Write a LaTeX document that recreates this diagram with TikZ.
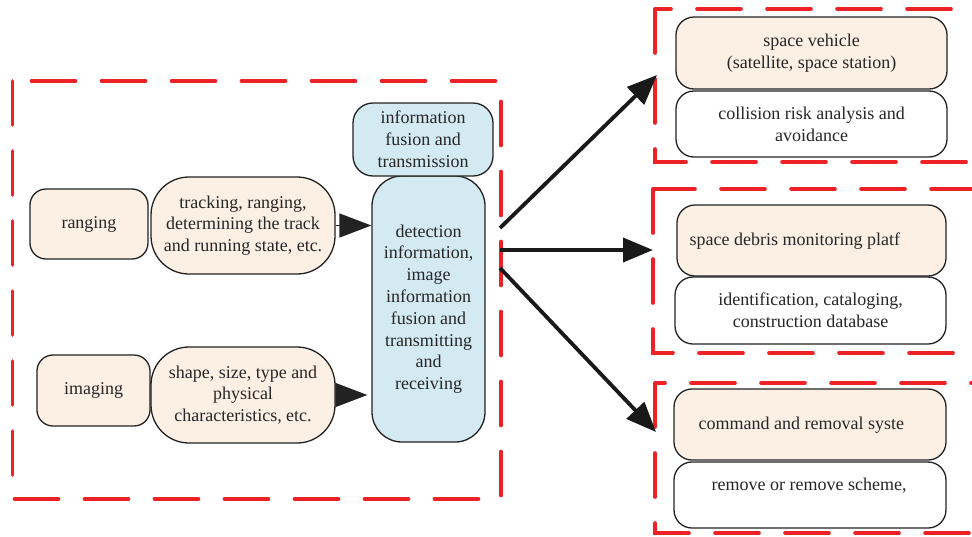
\documentclass[tikz,border=0pt]{standalone}
\usepackage{fontspec}
\setmainfont{Liberation Serif}
\usetikzlibrary{arrows.meta}
\definecolor{beige}{HTML}{FCF0E4}
\definecolor{lblue}{HTML}{D3EAF2}
\definecolor{dred}{HTML}{EC2227}
\definecolor{edge}{HTML}{222222}
\tikzset{
  bx/.style={draw=edge, line width=1.3pt, inner sep=0pt, align=center,
    font=\fontsize{18}{21.8}\selectfont, text=black!85},
  panel/.style={draw=dred, line width=3.6pt, dash pattern=on 44pt off 26pt, line cap=round},
  smallarr/.style={draw=edge, line width=1.5pt, -{Triangle[length=32pt,width=24pt]}},
  bigarr/.style={draw=black!90, line width=3.8pt, -{Triangle[length=30pt,width=24pt]}}
}
\begin{document}
\begin{tikzpicture}[x=1pt,y=-1pt]
\useasboundingbox (0,0) rectangle (972,536);
\clip (0,0) rectangle (972,536);
% panels
\draw[panel] (12.5,81) rectangle (501,499);
\draw[panel] (655,9) rectangle (1000,162);
\draw[panel] (653,189) rectangle (1000,353);
\draw[panel] (655,383) rectangle (1000,533);
% left nodes
\node[bx, fill=beige, minimum width=118pt, minimum height=70pt, rounded corners=16pt] (ranging) at (89,224) {ranging};
\node[bx, fill=beige, minimum width=184pt, minimum height=97pt, rounded corners=38pt] (tracking) at (243,225.5) {tracking, ranging,\\determining the track\\and running state, etc.};
\node[bx, fill=beige, minimum width=113pt, minimum height=71pt, rounded corners=16pt] (imaging) at (93.5,390.5) {imaging};
\node[bx, fill=beige, minimum width=184pt, minimum height=96pt, rounded corners=38pt] (shape) at (243,395) {shape, size, type and\\physical\\characteristics, etc.};
\node[bx, fill=lblue, minimum width=113pt, minimum height=266pt, rounded corners=30pt] (detection) at (428.5,309) {detection\\information,\\image\\information\\fusion and\\transmitting\\and\\receiving};
\node[bx, fill=lblue, minimum width=140pt, minimum height=73pt, rounded corners=20pt] (fusion) at (423,139.5) {information\\fusion and\\transmission};
% right nodes
\node[bx, fill=beige, minimum width=271pt, minimum height=72pt, rounded corners=18pt] (vehicle) at (811.5,53) {space vehicle\\(satellite, space station)};
\node[bx, fill=white, minimum width=271pt, minimum height=66pt, rounded corners=18pt] (collision) at (811.5,124) {collision risk analysis and\\avoidance};
\node[bx, fill=beige, minimum width=269pt, minimum height=71pt, rounded corners=18pt] (debris) at (811.5,240.5) {};
\node[bx, anchor=west, draw=none, fill=none] (debristext) at (689,241) {space debris monitoring platf};
\node[bx, fill=white, minimum width=271pt, minimum height=67pt, rounded corners=18pt] (ident) at (810.5,310.5) {identification, cataloging,\\construction database};
\node[bx, fill=beige, minimum width=272pt, minimum height=71pt, rounded corners=18pt] (command) at (810,424.5) {};
\node[bx, anchor=west, draw=none, fill=none] (commandtext) at (698,425) {command and removal syste};
\node[bx, fill=white, minimum width=272pt, minimum height=66pt, rounded corners=18pt] (remove) at (810,495) {};
\node[bx, anchor=west, draw=none, fill=none] (removetext) at (711,486) {remove or remove scheme,};
% arrows
\draw[smallarr] (tracking.east) -- (detection.west |- tracking.east);
\draw[smallarr, shorten >=4pt] (shape.east) -- (detection.west |- shape.east);
\coordinate (o1) at (500,228);
\coordinate (o2) at (500,250);
\coordinate (o3) at (500,268);
\coordinate (e1) at (657,75);
\coordinate (e2) at (653,250);
\coordinate (e3) at (656,432);
\draw[bigarr] (o1) -- (e1);
\draw[bigarr] (o2) -- (e2);
\draw[bigarr] (o3) -- (e3);
\end{tikzpicture}
\end{document}
